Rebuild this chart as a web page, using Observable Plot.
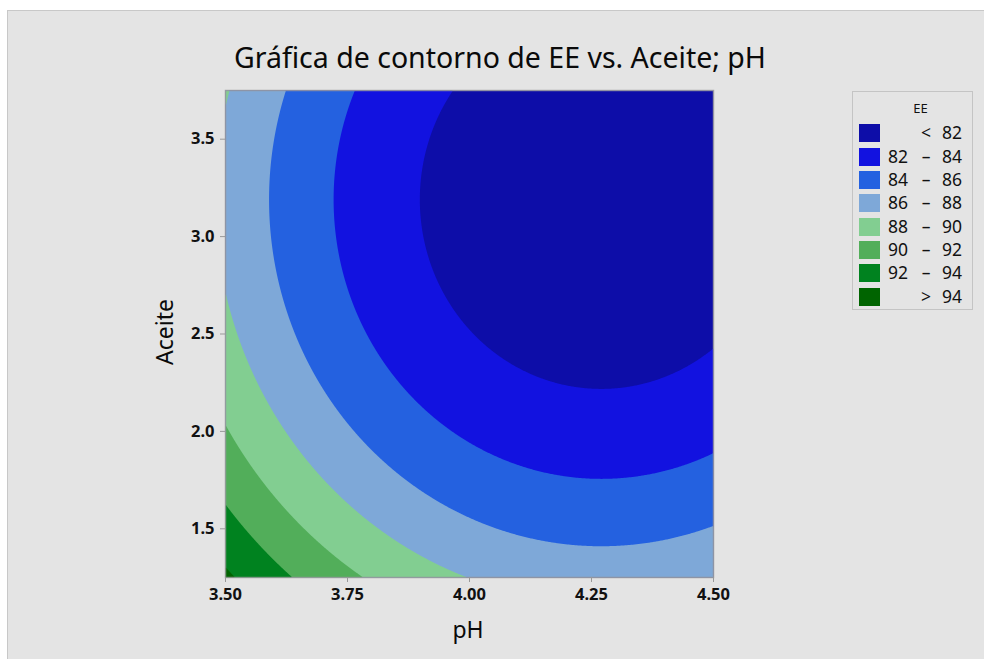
<!DOCTYPE html>
<html>
<head>
<meta charset="utf-8">
<script src="https://cdn.jsdelivr.net/npm/d3@7"></script>
<script src="https://cdn.jsdelivr.net/npm/@observablehq/plot@0.6"></script>
<style>
  html, body { margin: 0; padding: 0; background: #ffffff; }
  #page { position: relative; width: 984px; height: 659px; overflow: hidden; background: #ffffff;
          font-family: "Noto Sans", "Open Sans", sans-serif; color: #111; }
  #panel { position: absolute; left: 7px; top: 10px; right: 0; bottom: 0; background: #e4e4e4;
           border-left: 1px solid #c8c8c8; border-top: 1px solid #c8c8c8; }
  #chart { position: absolute; left: 0; top: 0; }
  #title { position: absolute; left: 500px; top: 57px; transform: translate(-50%, -50%);
           font-size: 28.5px; white-space: nowrap; color: #0a0a0a; }
  .axis-label { position: absolute; font-size: 23px; white-space: nowrap; transform: translate(-50%, -50%); color: #0a0a0a; }
  #ylab { transform: translate(-50%, -50%) rotate(-90deg); }
  #legend { position: absolute; left: 852px; top: 91px; width: 121px; height: 219px;
            border: 1px solid #c4c4c4; box-sizing: border-box; }
  #legend .head { position: absolute; left: 0; width: 100%; top: 16px; transform: translateY(-50%);
                  text-align: center; font-size: 13px; padding-left: 16px; box-sizing: border-box; }
  #legend .row { position: absolute; left: 0; width: 100%; height: 18px; font-size: 17.5px; }
  #legend .sw { position: absolute; left: 6px; top: 0; width: 21px; height: 18px; }
  #legend .lo, #legend .sym, #legend .hi { position: absolute; top: 50%; transform: translateY(-50%); line-height: 1; }
  #legend .lo { left: 35px; }
  #legend .sym { left: 67px; width: 12px; text-align: center; }
  #legend .hi { left: 89px; }
</style>
</head>
<body>
<div id="page">
  <div id="panel"></div>
  <div id="chart"></div>
  <div id="title">Gráfica de contorno de EE vs. Aceite; pH</div>
  <div class="axis-label" id="xlab" style="left:468px; top:629px;">pH</div>
  <div class="axis-label" id="ylab" style="left:164px; top:332px;">Aceite</div>
  <div id="legend"></div>
</div>
<script>
// Axis ranges and ticks
const pHRange = [3.5, 4.5];
const aceiteRange = [1.25, 3.75];
const pHTicks = [3.5, 3.75, 4.0, 4.25, 4.5];
const aceiteTicks = [1.5, 2.0, 2.5, 3.0, 3.5];

// Contour levels for EE and the colour of each band (lowest band first)
const eeLevels = [82, 84, 86, 88, 90, 92, 94];
const bandColors = ["#0d0da8", "#1212e0", "#2461e0", "#7ea8d8", "#82ce91", "#52ae5a", "#00821f", "#006400"];

// Fitted quadratic response surface:
// EE = eeMin + curvPH*(pH - pHOpt)^2 + curvAceite*(Aceite - aceiteOpt)^2
const surfaceNames = ["eeMin", "pHOpt", "aceiteOpt", "curvPH", "curvAceite"];
const surfaceCoefs = [80.3, 4.27, 3.19, 12.3, 1.8];
const [eeMin, pHOpt, aceiteOpt, curvPH, curvAceite] = surfaceCoefs;
const ee = (pH, aceite) => eeMin + curvPH * (pH - pHOpt) ** 2 + curvAceite * (aceite - aceiteOpt) ** 2;

const chart = Plot.plot({
  width: 984,
  height: 659,
  marginLeft: 225,
  marginRight: 271,
  marginTop: 90,
  marginBottom: 82,
  style: { background: "transparent", fontFamily: "'Noto Sans', 'Open Sans', sans-serif", color: "#111" },
  x: { domain: pHRange },
  y: { domain: aceiteRange },
  color: { type: "threshold", domain: eeLevels, range: bandColors },
  marks: [
    // the band below the lowest level fills the whole panel
    Plot.frame({ fill: bandColors[0], stroke: "none" }),
    Plot.contour({
      fill: ee,
      x1: pHRange[0], x2: pHRange[1], y1: aceiteRange[0], y2: aceiteRange[1],
      thresholds: eeLevels,
      pixelSize: 1,
      stroke: "none"
    }),
    Plot.frame({ stroke: "#9a9a9a", strokeOpacity: 0.8, strokeWidth: 1.5 }),
    Plot.axisX({ ticks: pHTicks, tickFormat: d3.format(".2f"), tickSize: 5, tickPadding: 6,
                 fontSize: 16.5, fontWeight: "bold", stroke: "#999", label: null }),
    Plot.axisY({ ticks: aceiteTicks, tickFormat: d3.format(".1f"), tickSize: 5, tickPadding: 6,
                 fontSize: 16.5, fontWeight: "bold", stroke: "#999", label: null })
  ]
});
chart.querySelectorAll('g[aria-label$="axis tick label"] text').forEach(t => t.setAttribute("fill", "#111"));
document.getElementById("chart").appendChild(chart);

// Legend built from the same levels and colours
const legend = document.getElementById("legend");
const head = document.createElement("div");
head.className = "head";
head.textContent = "EE";
legend.appendChild(head);
const rowTop = 32.3, rowStep = 23.35;
bandColors.forEach((color, i) => {
  const row = document.createElement("div");
  row.className = "row";
  row.style.top = (rowTop + i * rowStep) + "px";
  const sw = document.createElement("div");
  sw.className = "sw";
  sw.style.background = color;
  row.appendChild(sw);
  const lo = document.createElement("span"); lo.className = "lo";
  const sym = document.createElement("span"); sym.className = "sym";
  const hi = document.createElement("span"); hi.className = "hi";
  if (i === 0) { sym.textContent = "<"; hi.textContent = eeLevels[0]; }
  else if (i === bandColors.length - 1) { sym.textContent = ">"; hi.textContent = eeLevels[eeLevels.length - 1]; }
  else { lo.textContent = eeLevels[i - 1]; sym.textContent = "–"; hi.textContent = eeLevels[i]; }
  row.append(lo, sym, hi);
  legend.appendChild(row);
});
</script>
</body>
</html>
